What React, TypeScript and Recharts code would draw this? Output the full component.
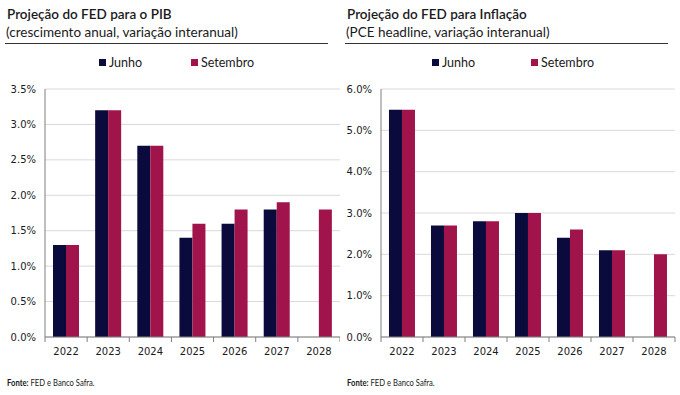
import React from 'react'
import { BarChart, Bar, XAxis, YAxis, CartesianGrid } from 'recharts'

const years = ['2022', '2023', '2024', '2025', '2026', '2027', '2028']
const pibJunho = [1.3, 3.2, 2.7, 1.4, 1.6, 1.8, null]
const pibSetembro = [1.3, 3.2, 2.7, 1.6, 1.8, 1.9, 1.8]
const inflJunho = [5.5, 2.7, 2.8, 3.0, 2.4, 2.1, null]
const inflSetembro = [5.5, 2.7, 2.8, 3.0, 2.6, 2.1, 2.0]
const pibTicks = [0, 0.5, 1, 1.5, 2, 2.5, 3, 3.5]
const inflTicks = [0, 1, 2, 3, 4, 5, 6]

const JUNHO = '#0b0a3d'
const SETEMBRO = '#a0144b'
const TICK_FONT = 'DejaVu Sans, Verdana, sans-serif'
const TEXT_FONT = 'Lato, Calibri, sans-serif'

function buildRows(junho: (number | null)[], setembro: (number | null)[]) {
  return years.map((y, i) => ({ year: y, junho: junho[i], setembro: setembro[i] }))
}

function YearTick(props: any) {
  const { x, y, payload, index, step } = props
  const last = index === years.length - 1
  return (
    <g>
      <line x1={x - step / 2} x2={x - step / 2} y1={y - 8} y2={y - 3} stroke="#7f7f7f" />
      {last && <line x1={x + step / 2} x2={x + step / 2} y1={y - 8} y2={y - 3} stroke="#7f7f7f" />}
      <text x={x} y={y + 10} textAnchor="middle" fontSize={10} fontFamily={TICK_FONT} fill="#1a1a1a">
        {payload.value}
      </text>
    </g>
  )
}

function LegendItem({ left, color, label }: { left: number; color: string; label: string }) {
  return (
    <div style={{ position: 'absolute', left, top: 55, display: 'flex', alignItems: 'center', fontFamily: TEXT_FONT, fontSize: 12.5, color: '#1a1a1a', whiteSpace: 'nowrap' }}>
      <span style={{ width: 7, height: 7, background: color, display: 'inline-block', marginRight: 3 }} />
      <span>{label}</span>
    </div>
  )
}

interface PanelProps {
  left: number
  title: string
  subtitle: string
  rows: any[]
  ticks: number[]
  yWidth: number
  rightMargin: number
  junhoLeft: number
  setembroLeft: number
  lineWidth: number
}

function Panel(p: PanelProps) {
  const chartW = 340
  const plotW = chartW - p.yWidth - p.rightMargin
  const step = plotW / years.length
  return (
    <div style={{ position: 'absolute', left: p.left, top: 0, width: 340, height: 395 }}>
      <div style={{ position: 'absolute', left: 7, top: 6, fontFamily: TEXT_FONT, fontSize: 13.5, fontWeight: 600, color: '#1a1a1a', whiteSpace: 'nowrap' }}>
        {p.title}
      </div>
      <div style={{ position: 'absolute', left: 6, top: 24, fontFamily: TEXT_FONT, fontSize: 13.5, color: '#1a1a1a', whiteSpace: 'nowrap' }}>
        {p.subtitle}
      </div>
      <div style={{ position: 'absolute', left: 5, top: 43, width: p.lineWidth, height: 1, background: '#333' }} />
      <LegendItem left={p.junhoLeft} color={JUNHO} label="Junho" />
      <LegendItem left={p.setembroLeft} color={SETEMBRO} label="Setembro" />
      <div style={{ position: 'absolute', left: 0, top: 80 }}>
        <BarChart
          width={chartW}
          height={290}
          data={p.rows}
          margin={{ top: 9, right: p.rightMargin, bottom: 0, left: 0 }}
          barGap={0}
          barCategoryGap="19%"
        >
          <CartesianGrid vertical={false} stroke="#d9d9d9" />
          <XAxis
            dataKey="year"
            height={33}
            axisLine={{ stroke: '#7f7f7f' }}
            tickLine={false}
            tick={<YearTick step={step} />}
            interval={0}
          />
          <YAxis
            width={p.yWidth}
            ticks={p.ticks}
            domain={[0, p.ticks[p.ticks.length - 1]]}
            tickFormatter={(v: number) => v.toFixed(1) + '%'}
            axisLine={{ stroke: '#7f7f7f' }}
            tickLine={false}
            tick={{ fontSize: 10, fontFamily: TICK_FONT, fill: '#1a1a1a' }}
            tickMargin={3}
          />
          <Bar dataKey="junho" name="Junho" fill={JUNHO} isAnimationActive={false} />
          <Bar dataKey="setembro" name="Setembro" fill={SETEMBRO} isAnimationActive={false} />
        </BarChart>
      </div>
      <div style={{ position: 'absolute', left: 7, top: 377, fontFamily: TEXT_FONT, fontSize: 9, color: '#1a1a1a', whiteSpace: 'nowrap', transform: 'scaleX(0.85)', transformOrigin: 'left' }}>
        <b>Fonte:</b> FED e Banco Safra.
      </div>
    </div>
  )
}

export default function App() {
  return (
    <div style={{ position: 'absolute', left: 0, top: 0, width: 680, height: 395, background: '#fff', overflow: 'hidden' }}>
      <Panel
        left={0}
        title="Projeção do FED para o PIB"
        subtitle="(crescimento anual, variação interanual)"
        rows={buildRows(pibJunho, pibSetembro)}
        ticks={pibTicks}
        yWidth={45}
        rightMargin={0}
        junhoLeft={99}
        setembroLeft={191}
        lineWidth={323}
      />
      <Panel
        left={340}
        title="Projeção do FED para Inflação"
        subtitle="(PCE headline, variação interanual)"
        rows={buildRows(inflJunho, inflSetembro)}
        ticks={inflTicks}
        yWidth={41}
        rightMargin={5}
        junhoLeft={92}
        setembroLeft={191}
        lineWidth={323}
      />
    </div>
  )
}
